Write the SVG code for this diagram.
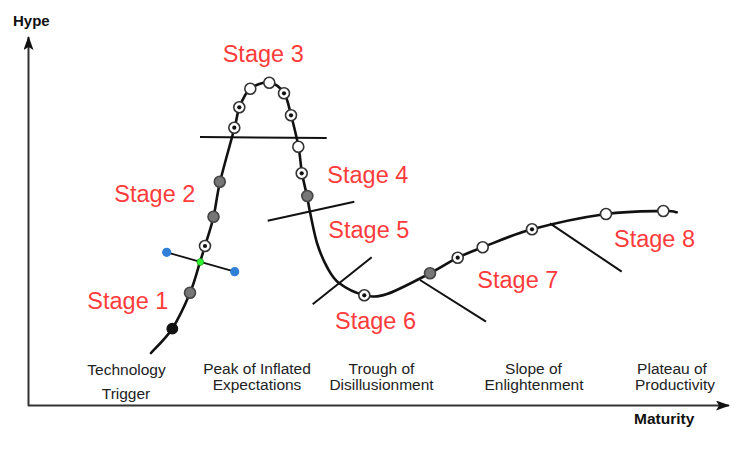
<svg xmlns="http://www.w3.org/2000/svg" width="745" height="450" viewBox="0 0 745 450">
<style>
.bg{fill:#ffffff}
.axis{stroke:#333;stroke-width:2;fill:none}
.curve{stroke:#111;stroke-width:2.6;fill:none;stroke-linecap:round;stroke-linejoin:round}
.sep{stroke:#111;stroke-width:2;fill:none;stroke-linecap:butt}
.tick{stroke:#111;stroke-width:1.8;fill:none}
.w{fill:#fff;stroke:#333;stroke-width:1.6}
.g{fill:#777;stroke:#444;stroke-width:1.6}
.k{fill:#111;stroke:#111;stroke-width:1.2}
.dc{fill:#111}
.blue{fill:#2f7fd8}
.green{fill:#2ef02e;stroke:#1a9a1a;stroke-width:0.6}
.stage{font-family:"Liberation Sans",Arial,sans-serif;font-size:23.5px;fill:#ff3b3b}
.lbl{font-family:"Liberation Sans",Arial,sans-serif;font-size:15.5px;fill:#222;text-anchor:middle}
.ax{font-family:"Liberation Sans",Arial,sans-serif;font-size:15px;font-weight:bold;fill:#111}
</style>
<defs>
<marker id="arr" viewBox="0 0 14 10" refX="13" refY="5" markerWidth="7" markerHeight="5" markerUnits="strokeWidth" orient="auto">
<path d="M0,0 L14,5 L0,10 L3,5 Z" fill="#111"/>
</marker>
</defs>
<rect class="bg" x="0" y="0" width="745" height="450"/>

<g id="axes">
<line class="axis" x1="28.5" y1="406" x2="28.5" y2="37" marker-end="url(#arr)"/>
<line class="axis" x1="28" y1="405.5" x2="729" y2="405.5" marker-end="url(#arr)"/>
<text class="ax" x="13" y="26">Hype</text>
<text class="ax" x="634" y="424" style="font-size:15.5px">Maturity</text>
</g>

<g id="connectors">
<path id="hype-curve" class="curve" d="M151,353 C154.5,349 165.5,339 172,329 C178.5,319 185.33,304.17 190,293 C194.67,281.83 197.5,269.83 200,262 C202.5,254.17 202.75,253.5 205,246 C207.25,238.5 211,227.67 213.5,217 C216,206.33 216.5,196.83 220,182 C223.5,167.17 231.25,140.5 234.5,128 C237.75,115.5 236.92,113.5 239.5,107 C242.08,100.5 245.08,93.08 250,89 C254.92,84.92 263.33,81.83 269,82.5 C274.67,83.17 280.33,87.58 284,93 C287.67,98.42 288.58,106 291,115 C293.42,124 296.67,137.33 298.5,147 C300.33,156.67 300.58,164.83 302,173 C303.42,181.17 305.67,189.5 307,196 C308.33,202.5 308.33,204.17 310,212 C311.67,219.83 314.17,233.83 317,243 C319.83,252.17 323.33,260.33 327,267 C330.67,273.67 332.83,278.33 339,283 C345.17,287.67 356,293.17 364,295 C372,296.83 376,297.62 387,294 C398,290.38 418.22,279.35 430,273.3 C441.78,267.25 448.92,262.03 457.7,257.7 C466.48,253.37 470.32,252.03 482.7,247.3 C495.08,242.57 511.45,234.85 532,229.3 C552.55,223.75 584.12,217.05 606,214 C627.88,210.95 651.52,211.28 663.3,211 C675.08,210.72 674.47,212.08 676.7,212.3"/>
<line class="sep" x1="200" y1="137" x2="326.7" y2="138"/>
<line class="sep" x1="267.7" y1="220.7" x2="354.3" y2="201.7"/>
<line class="sep" x1="312.7" y1="304.3" x2="371.7" y2="257.3"/>
<line class="sep" x1="420" y1="280" x2="486" y2="321.7"/>
<line class="sep" x1="550" y1="223.3" x2="621.7" y2="271.7"/>
<line class="tick" x1="166.7" y1="252.3" x2="234.7" y2="271.7"/>
</g>

<g id="markers">
<circle class="k" cx="172.3" cy="328.7" r="5.3"/>
<circle class="g" cx="190" cy="292.7" r="5.5"/>
<circle class="w" cx="205" cy="246" r="5.5"/><circle class="dc" cx="205" cy="246" r="2.1"/>
<circle class="g" cx="213.5" cy="216.7" r="5.5"/>
<circle class="g" cx="219.8" cy="181.7" r="5.5"/>
<circle class="w" cx="234.3" cy="127.7" r="5.5"/><circle class="dc" cx="234.3" cy="127.7" r="2.1"/>
<circle class="w" cx="239.3" cy="107.3" r="5.5"/><circle class="dc" cx="239.3" cy="107.3" r="2.1"/>
<circle class="w" cx="250.3" cy="88.7" r="5.5"/>
<circle class="w" cx="269.3" cy="82.7" r="5.5"/>
<circle class="w" cx="284" cy="93.3" r="5.5"/><circle class="dc" cx="284" cy="93.3" r="2.1"/>
<circle class="w" cx="291" cy="115.3" r="5.5"/><circle class="dc" cx="291" cy="115.3" r="2.1"/>
<circle class="w" cx="298.3" cy="146.7" r="5.5"/>
<circle class="w" cx="301.7" cy="173.3" r="5.5"/><circle class="dc" cx="301.7" cy="173.3" r="2.1"/>
<circle class="g" cx="307.3" cy="196" r="5.5"/>
<circle class="w" cx="364.3" cy="295.3" r="5.5"/><circle class="dc" cx="364.3" cy="295.3" r="2.1"/>
<circle class="g" cx="430" cy="273.3" r="5.5"/>
<circle class="w" cx="457.7" cy="257.7" r="5.5"/><circle class="dc" cx="457.7" cy="257.7" r="2.1"/>
<circle class="w" cx="482.7" cy="247.3" r="5.5"/>
<circle class="w" cx="532" cy="229.3" r="5.5"/><circle class="dc" cx="532" cy="229.3" r="2.1"/>
<circle class="w" cx="606" cy="214" r="5.5"/>
<circle class="w" cx="663.3" cy="211" r="5.5"/>
<circle class="blue" cx="166.7" cy="252.3" r="4.6"/>
<circle class="blue" cx="234.7" cy="271.7" r="4.6"/>
<circle class="green" cx="200.3" cy="262" r="3.4"/>
</g>

<g id="stage-labels">
<text class="stage" x="87.3" y="309.3">Stage 1</text>
<text class="stage" x="114.3" y="201.7">Stage 2</text>
<text class="stage" x="222.7" y="61.7">Stage 3</text>
<text class="stage" x="327.3" y="182.7">Stage 4</text>
<text class="stage" x="328.3" y="238.3">Stage 5</text>
<text class="stage" x="335" y="329">Stage 6</text>
<text class="stage" x="477.3" y="288.3">Stage 7</text>
<text class="stage" x="614" y="246.7">Stage 8</text>
</g>

<g id="phase-labels">
<text class="lbl" x="126.5" y="375">Technology</text>
<text class="lbl" x="126" y="399">Trigger</text>
<text class="lbl" x="257" y="374">Peak of Inflated</text>
<text class="lbl" x="257" y="390">Expectations</text>
<text class="lbl" x="381.5" y="374">Trough of</text>
<text class="lbl" x="381.5" y="390">Disillusionment</text>
<text class="lbl" x="533.5" y="374">Slope of</text>
<text class="lbl" x="534" y="390">Enlightenment</text>
<text class="lbl" x="672" y="374">Plateau of</text>
<text class="lbl" x="675" y="390">Productivity</text>
</g>
</svg>
